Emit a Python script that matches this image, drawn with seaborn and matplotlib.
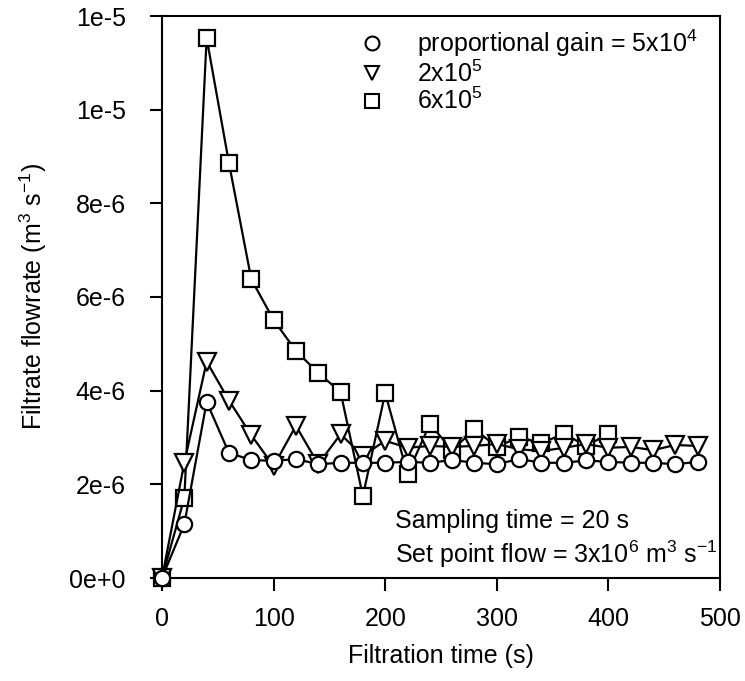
import numpy as np
import pandas as pd
import matplotlib
matplotlib.use("Agg")
import matplotlib.pyplot as plt
import seaborn as sns
from matplotlib.lines import Line2D

# ---- data ----
time_s = [0, 20, 40, 60, 80, 100, 120, 140, 160, 180, 200, 220, 240, 260, 280,
          300, 320, 340, 360, 380, 400, 420, 440, 460, 480]
gain_5e4 = [0.0, 1.15, 3.76, 2.67, 2.52, 2.50, 2.54, 2.43, 2.46, 2.46, 2.46, 2.48, 2.46,
            2.52, 2.46, 2.43, 2.54, 2.46, 2.46, 2.51, 2.48, 2.46, 2.46, 2.43, 2.48]
gain_2e5 = [0.0, 2.46, 4.62, 3.79, 3.05, 2.39, 3.25, 2.43, 3.07, 2.61, 2.93, 2.78, 2.82,
            2.80, 2.82, 2.86, 2.75, 2.71, 2.78, 2.86, 2.78, 2.80, 2.73, 2.84, 2.82]
time_sq = [0, 20, 40, 60, 80, 100, 120, 140, 160, 180, 200, 220, 240, 260, 280,
           300, 320, 340, 360, 380, 400]
gain_6e5 = [0.0, 1.71, 11.53, 8.86, 6.38, 5.51, 4.85, 4.38, 3.97, 1.75, 3.95, 2.22, 3.29,
            2.73, 3.18, 2.80, 3.01, 2.88, 3.08, 2.82, 3.08]
y_ticks = [0, 2e-6, 4e-6, 6e-6, 8e-6, 1e-5, 1.2e-5]
y_tick_labels = ["0e+0", "2e-6", "4e-6", "6e-6", "8e-6", "1e-5", "1e-5"]
x_ticks = [0, 100, 200, 300, 400, 500]
legend_labels = ["proportional gain = 5x10$^{4}$", "2x10$^{5}$", "6x10$^{5}$"]

sns.set_style("ticks")
plt.rcParams["font.family"] = ["Liberation Sans", "DejaVu Sans"]
plt.rcParams["mathtext.fontset"] = "custom"
plt.rcParams["mathtext.rm"] = "Liberation Sans"
plt.rcParams["mathtext.it"] = "Liberation Sans"
plt.rcParams["mathtext.default"] = "regular"
plt.rcParams["text.color"] = "black"
plt.rcParams["axes.labelcolor"] = "black"
plt.rcParams["xtick.color"] = "black"
plt.rcParams["ytick.color"] = "black"

FS = 18

fig = plt.figure(figsize=(7.45, 6.81), dpi=100)
ax = fig.add_axes([162 / 745, 1 - 578 / 681, (720 - 162) / 745, (578 - 16) / 681])

series = [
    (time_sq, gain_6e5, "s"),
    (time_s, gain_2e5, "v"),
    (time_s, gain_5e4, "o"),
]
for i, (t, v, m) in enumerate(series):
    df = pd.DataFrame({"t": t, "q": np.array(v) * 1e-6})
    sns.lineplot(data=df, x="t", y="q", ax=ax, color="black", lw=1.6,
                 marker=m, markersize=11 if m != "v" else 12.5,
                 markerfacecolor="white", markeredgecolor="black",
                 markeredgewidth=1.6, zorder=3 + i, clip_on=False)

ax.set_xlim(0, 500)
ax.set_ylim(0, 1.2e-5)
ax.set_xticks(x_ticks)
ax.set_xticklabels([str(x) for x in x_ticks])
ax.set_yticks(y_ticks)
ax.set_yticklabels(y_tick_labels)
ax.tick_params(axis="both", direction="out", length=9, width=1.5, labelsize=FS)
ax.tick_params(axis="y", pad=17)
ax.tick_params(axis="x", pad=12)
for s in ["left", "bottom", "right", "top"]:
    ax.spines[s].set_visible(True)
    ax.spines[s].set_linewidth(1.5)
    ax.spines[s].set_color("black")

ax.set_xlabel("Filtration time (s)", fontsize=FS, labelpad=9)
ax.set_ylabel("Filtrate flowrate (m$^{3}$ s$^{-1}$)", fontsize=FS, labelpad=15)

handles = [Line2D([], [], ls="none", marker=m, markersize=10, markerfacecolor="white",
                  markeredgecolor="black", markeredgewidth=1.5)
           for m in ["o", "v", "s"]]
ax.legend(handles, legend_labels, loc="upper left", bbox_to_anchor=(0.318, 1.015),
          frameon=False, fontsize=FS, handlelength=1.0, handletextpad=1.3,
          labelspacing=0.05, borderpad=0.3)

ax.text(0.4176, 0.1014, "Sampling time = 20 s", transform=ax.transAxes, fontsize=FS,
        va="center", ha="left")
ax.text(0.4176, 0.0427, "Set point flow = 3x10$^{6}$ m$^{3}$ s$^{-1}$",
        transform=ax.transAxes, fontsize=FS, va="center", ha="left")

fig.savefig("out.png", dpi=100)
